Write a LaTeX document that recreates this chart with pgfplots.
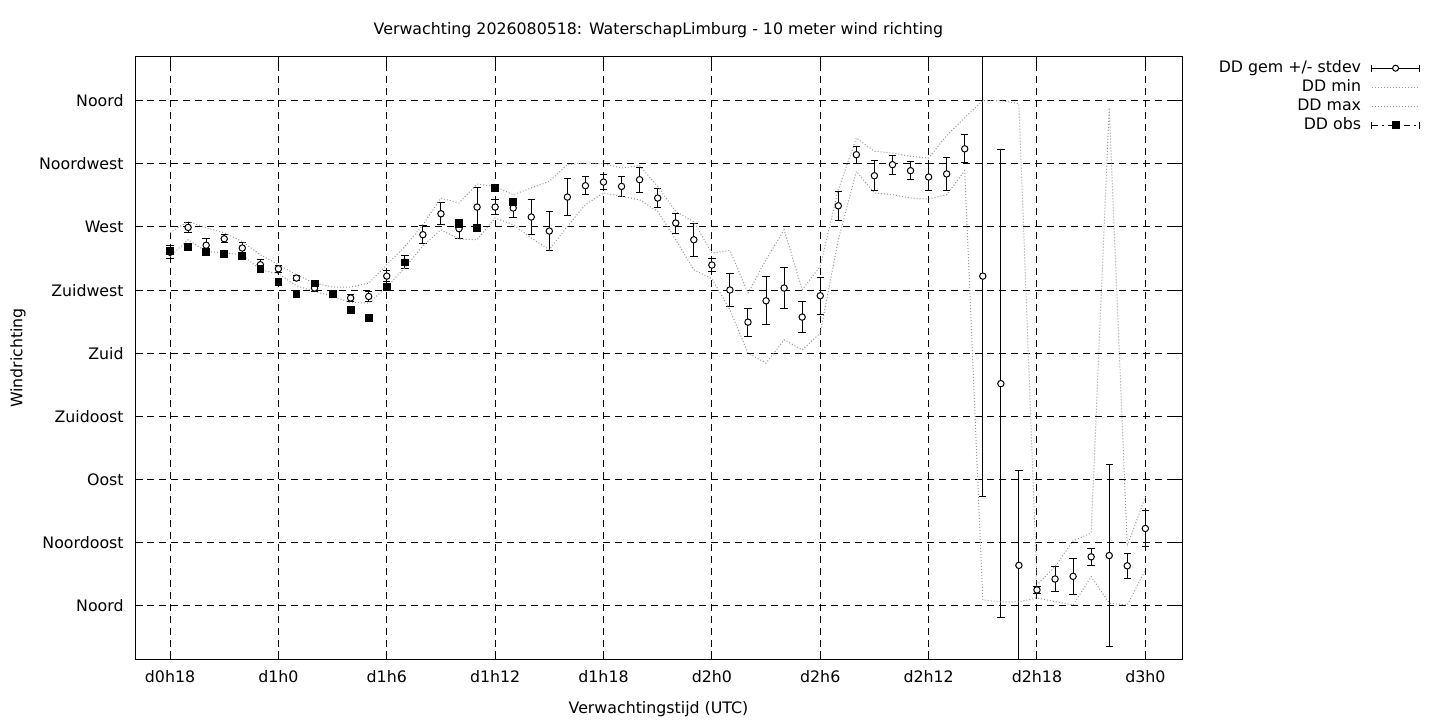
\documentclass[border=0pt]{standalone}
\usepackage{fontspec}
\setmainfont{DejaVu Sans}
\usepackage{pgfplots}
\pgfplotsset{compat=1.18}
\usepackage{pgfplotstable}

\pgfplotstableread{
h m e
18 252.0 4.7
19 269.7 3.6
20 257.0 4.5
21 261.6 3.0
22 255.0 3.6
23 243.1 3.6
24 240.2 2.4
25 233.6 1.5
26 226.5 2.5
27 222.2 2.5
28 219.4 2.7
29 220.5 3.6
30 235.0 3.7
31 244.9 4.6
32 264.5 6.2
33 279.4 7.7
34 268.8 6.8
35 284.2 13.9
36 284.2 5.3
37 283.5 6.8
38 277.1 12.3
39 267.1 14.0
40 291.3 13.1
41 299.4 6.3
42 302.0 5.3
43 298.9 7.1
44 303.7 8.9
45 290.6 6.8
46 272.8 7.1
47 260.9 11.8
48 242.9 4.6
49 225.1 11.7
50 202.2 9.9
51 217.4 17.0
52 226.5 14.6
53 205.8 10.9
54 221.0 13.2
55 285.1 10.3
56 321.5 6.0
57 306.5 10.8
58 314.4 6.8
59 310.1 6.3
60 305.6 9.8
61 307.8 11.5
62 325.7 9.9
63 235.0 156.7
64 158.4 166.5
65 28.9 67.4
66 11.4 2.8
67 19.2 8.7
68 21.1 12.8
69 35.0 5.9
70 35.9 65.0
71 28.6 8.7
72 55.2 12.5
}\gem

\pgfplotstableread{
h lo hi
18 249.0 265.9
19 260.9 274.0
20 252.6 269.5
21 251.4 265.9
22 250.2 259.7
23 239.5 250.2
24 236.7 243.1
25 228.1 236.0
26 224.1 230.0
27 220.5 227.2
28 216.2 227.2
29 215.8 230.0
30 227.2 243.1
31 241.0 256.1
32 256.6 271.6
33 268.0 290.6
34 261.4 287.1
35 260.9 300.6
36 276.4 298.9
37 271.6 293.0
38 262.1 297.8
39 253.8 302.5
40 270.4 314.4
41 285.9 315.6
42 294.2 315.1
43 291.8 312.0
44 289.4 313.7
45 281.1 298.9
46 260.9 281.1
47 239.5 273.7
48 233.1 251.4
49 211.0 253.3
50 180.1 222.9
51 173.0 246.7
52 189.6 268.0
53 182.5 225.3
54 194.4 241.9
55 260.9 296.6
56 309.6 333.4
57 294.2 323.9
58 293.0 322.7
59 290.6 320.3
60 289.9 319.1
61 293.0 335.1
62 310.1 347.9
63 4.3 360.0
64 2.9 360.0
65 2.9 357.9
66 5.7 15.0
67 3.1 28.0
68 0.7 46.3
69 20.9 52.0
70 2.1 355.0
71 0.7 42.8
72 25.7 77.7
}\minmax

\pgfplotstableread{
h o
18 253.0
19 255.7
20 252.4
21 250.9
22 249.3
23 240.2
24 231.0
25 222.6
26 229.8
27 222.6
28 211.0
29 205.3
30 227.2
31 244.7
34 272.3
35 269.3
36 297.8
37 287.8
}\obs

\definecolor{mmgray}{RGB}{150,150,150}

\begin{document}
\begin{tikzpicture}[font=\fontsize{7.9}{9.5}\selectfont]
\useasboundingbox (0,0) rectangle (720pt,360pt);
\begin{axis}[
  at={(67.5pt,30.5pt)}, anchor=south west,
  scale only axis, width=523.5pt, height=301pt,
  xmin=16.06, xmax=74.03, ymin=-37.8, ymax=391.1,
  xtick={18,24,...,72},
  xticklabels={d0h18,d1h0,d1h6,d1h12,d1h18,d2h0,d2h6,d2h12,d2h18,d3h0},
  ytick={0,45,...,360},
  yticklabels={Noord,Noordoost,Oost,Zuidoost,Zuid,Zuidwest,West,Noordwest,Noord},
  /pgf/number format/assume math mode=true,
  grid=major,
  major grid style={black, line width=0.5pt, dash pattern=on 3.5pt off 2.5pt},
  axis line style={black, line width=0.5pt},
  tick style={black, line width=0.5pt}, major tick length=4pt,
  tick align=inside,
  xticklabel style={anchor=base, yshift=-11.5pt},
  yticklabel style={anchor=east, inner sep=0pt, xshift=-5.5pt},
  every axis title shift=0pt,
  title={Verwachting 2026080518: WaterschapLimburg - 10 meter wind richting},
  title style={at={(axis description cs:0.5,1.0374)}, anchor=base, yshift=0pt},
  xlabel={Verwachtingstijd (UTC)},
  xlabel style={at={(axis description cs:0.5,-0.0900)}, anchor=base, yshift=0pt},
  ylabel={Windrichting},
  ylabel style={at={(axis description cs:-0.11175,0.5)}, anchor=center},
  legend plot pos=right,
  legend cell align=right,
  legend style={draw=none, fill=none, at={(axis description cs:1.2278,0.994)}, anchor=north east,
    inner sep=0pt, row sep=2.3pt, column sep=5pt,
    nodes={inner sep=0pt, text height=5.7pt, text depth=1.5pt}},
]
\addplot[only marks, mark=*, mark size=1.6pt,
  mark options={fill=white, draw=black, line width=0.5pt},
  legend image code/.code={
    \draw[black, line width=0.5pt, solid] (0pt,0pt)--(24pt,0pt) (0pt,-1.85pt)--(0pt,1.85pt) (24pt,-1.85pt)--(24pt,1.85pt);
    \draw[black, fill=white, line width=0.5pt, solid] (12pt,0pt) circle (1.5pt);},
  error bars/.cd, y dir=both, y explicit,
  error bar style={black, line width=0.5pt},
  error mark options={rotate=90, black, line width=0.5pt, mark size=1.85pt}]
  table[x=h, y=m, y error=e] {\gem};
\addlegendentry{DD gem +/- stdev}
\addplot[mmgray, line width=0.5pt, dash pattern=on 0.5pt off 1pt, no marks,
  legend image code/.code={\draw[mmgray, line width=0.5pt, dash pattern=on 0.5pt off 1pt] (0pt,0pt)--(24pt,0pt);}]
  table[x=h, y=lo] {\minmax};
\addlegendentry{DD min}
\addplot[mmgray, line width=0.5pt, dash pattern=on 0.5pt off 1pt, no marks,
  legend image code/.code={\draw[mmgray, line width=0.5pt, dash pattern=on 0.5pt off 1pt] (0pt,0pt)--(24pt,0pt);}]
  table[x=h, y=hi] {\minmax};
\addlegendentry{DD max}
\addplot[only marks, mark=square*, mark size=1.7pt, mark options={fill=black, draw=black},
  legend image code/.code={
    \draw[black, line width=0.5pt, dash pattern=on 3pt off 2pt on 1pt off 2pt] (0pt,0pt)--(24pt,0pt);
    \draw[black, line width=0.5pt, solid] (0pt,-1.85pt)--(0pt,1.85pt) (24pt,-1.85pt)--(24pt,1.85pt);
    \fill[black] (10.3pt,-1.7pt) rectangle (13.7pt,1.7pt);}]
  table[x=h, y=o] {\obs};
\addlegendentry{DD obs}
\end{axis}
\end{tikzpicture}
\end{document}
